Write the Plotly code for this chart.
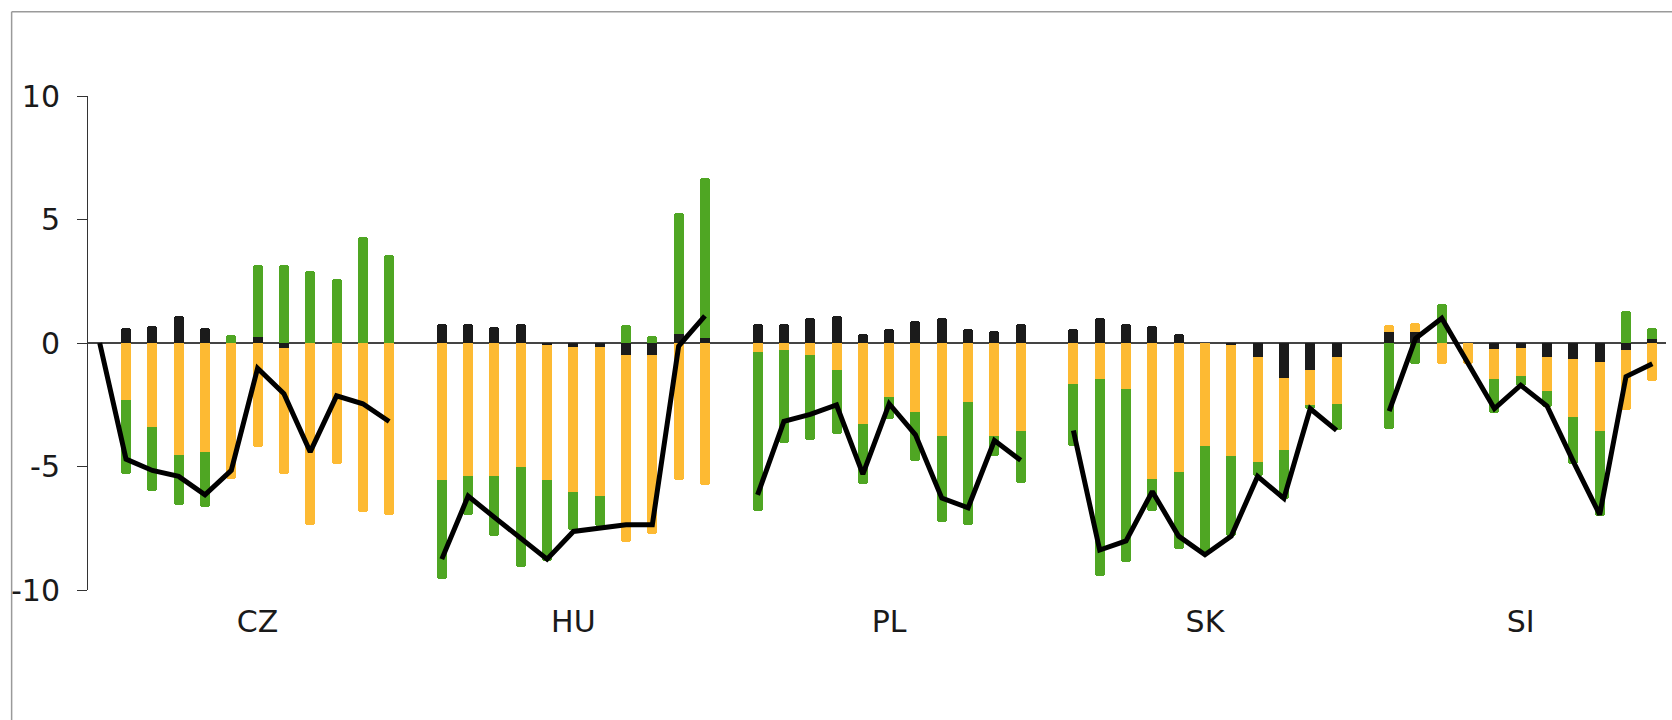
import plotly.graph_objects as go

countries = ["CZ", "HU", "PL", "SK", "SI"]
y_ticks = [-10, -5, 0, 5, 10]
y_tick_text = ["-10", "-5", "0", "5", "10"]

# 12 slots per country; slot 0 of each group is the gap (CZ has a starting line point of 0)
black = {
    "CZ": [None, 0.6, 0.7, 1.1, 0.6, 0, 0.25, -0.2, 0, 0, 0, 0],
    "HU": [None, 0.78, 0.78, 0.66, 0.78, -0.1, -0.15, -0.15, -0.47, -0.47, 0.35, 0.2],
    "PL": [None, 0.78, 0.78, 1.0, 1.08, 0.36, 0.58, 0.89, 1.0, 0.58, 0.47, 0.78],
    "SK": [None, 0.58, 1.0, 0.77, 0.67, 0.36, 0, -0.08, -0.58, -1.4, -1.1, -0.58],
    "SI": [None, 0.43, 0.45, 0, 0, -0.24, -0.22, -0.56, -0.66, -0.78, -0.3, 0.15],
}
orange = {
    "CZ": [None, -2.3, -3.4, -4.55, -4.4, -5.5, -4.2, -5.1, -7.35, -4.9, -6.85, -6.95],
    "HU": [None, -5.55, -5.4, -5.4, -5.03, -5.45, -5.9, -6.05, -7.57, -7.26, -5.55, -5.74],
    "PL": [None, -0.37, -0.27, -0.48, -1.1, -3.26, -2.18, -2.79, -3.78, -2.38, -3.78, -3.58],
    "SK": [None, -1.66, -1.45, -1.87, -5.49, -5.21, -4.19, -4.48, -4.22, -2.92, -1.41, -1.9],
    "SI": [None, 0.3, 0.38, -0.84, -0.84, -1.22, -1.1, -1.4, -2.32, -2.8, -2.4, -1.55],
}
green = {
    "CZ": [None, -3.0, -2.6, -2.0, -2.25, 0.32, 2.9, 3.15, 2.9, 2.6, 4.3, 3.56],
    "HU": [None, -4.0, -1.55, -2.42, -4.04, -3.26, -1.53, -1.21, 0.73, 0.3, 4.93, 6.5],
    "PL": [None, -6.43, -3.79, -3.43, -2.59, -2.46, -0.89, -2.0, -3.48, -4.98, -0.78, -2.1],
    "SK": [None, -2.49, -7.99, -6.98, -1.31, -3.11, -4.38, -3.26, -0.6, -2.01, -0.15, -1.06],
    "SI": [None, -3.48, -0.83, 1.56, 0, -1.37, -0.41, -0.65, -1.92, -3.44, 1.29, 0.47],
}
total = {
    "CZ": [0, -4.7, -5.16, -5.4, -6.15, -5.16, -1.02, -2.05, -4.41, -2.14, -2.46, -3.18],
    "HU": [None, -8.75, -6.2, -7.06, -7.9, -8.75, -7.63, -7.5, -7.36, -7.36, -0.13, 1.1],
    "PL": [None, -6.15, -3.17, -2.89, -2.51, -5.31, -2.46, -3.72, -6.28, -6.67, -3.95, -4.75],
    "SK": [None, -3.54, -8.38, -8.01, -6.01, -7.82, -8.57, -7.82, -5.40, -6.29, -2.66, -3.54],
    "SI": [None, -2.76, 0.18, 1.0, -0.82, -2.66, -1.71, -2.55, -4.8, -6.95, -1.36, -0.84],
}

GROUP = 12
C_BLACK = "#1b1b1b"
C_ORANGE = "#fdba33"
C_GREEN = "#4fa623"

fig = go.Figure()


def flat(d):
    xs, ys = [], []
    for gi, c in enumerate(countries):
        for k, v in enumerate(d[c]):
            xs.append(gi * GROUP + k)
            ys.append(v)
    return xs, ys


for name, data, col in [("black", black, C_BLACK), ("orange", orange, C_ORANGE), ("green", green, C_GREEN)]:
    xs, ys = flat(data)
    fig.add_trace(go.Bar(x=xs, y=ys, name=name, marker=dict(color=col, line=dict(width=0)),
                         width=0.38, showlegend=False))

# line, one segment per country
for gi, c in enumerate(countries):
    xs = [gi * GROUP + k for k, v in enumerate(total[c]) if v is not None]
    ys = [v for v in total[c] if v is not None]
    fig.add_trace(go.Scatter(x=xs, y=ys, mode="lines", line=dict(color="#000000", width=5),
                             showlegend=False))

fig.update_layout(
    width=1672, height=720,
    margin=dict(l=88, r=6, t=96, b=130, autoexpand=False),
    paper_bgcolor="white", plot_bgcolor="white",
    barmode="relative", bargap=0, barcornerradius=3,
    font=dict(family="DejaVu Sans", size=30, color="#1a1a1a"),
    xaxis=dict(range=[-0.445, 59.52], showgrid=False, zeroline=False, showline=False,
               automargin=False,
               tickmode="array", tickvals=[gi * GROUP + 6 for gi in range(len(countries))],
               ticktext=countries, ticks="", ticklabelstandoff=11,
               tickfont=dict(size=30)),
    yaxis=dict(range=[-10, 10], tickmode="array", tickvals=y_ticks, ticktext=y_tick_text,
               showgrid=False, automargin=False,
               zeroline=True, zerolinecolor="#444444", zerolinewidth=1.5,
               showline=True, linecolor="#333333", linewidth=1,
               ticks="outside", ticklen=10, tickcolor="#333333", ticklabelstandoff=11),
    shapes=[
        dict(type="line", xref="paper", yref="paper", x0=-0.0484, x1=1.01, y0=1.1706, y1=1.1706,
             line=dict(color="#9a9a9a", width=1.5)),
        dict(type="line", xref="paper", yref="paper", x0=-0.0484, x1=-0.0484, y0=1.1706, y1=-0.3,
             line=dict(color="#9a9a9a", width=1.5)),
    ],
)

fig.write_html("out.html", config={"displayModeBar": False},
               post_script="document.body.style.margin='0';document.body.style.overflow='hidden';")
